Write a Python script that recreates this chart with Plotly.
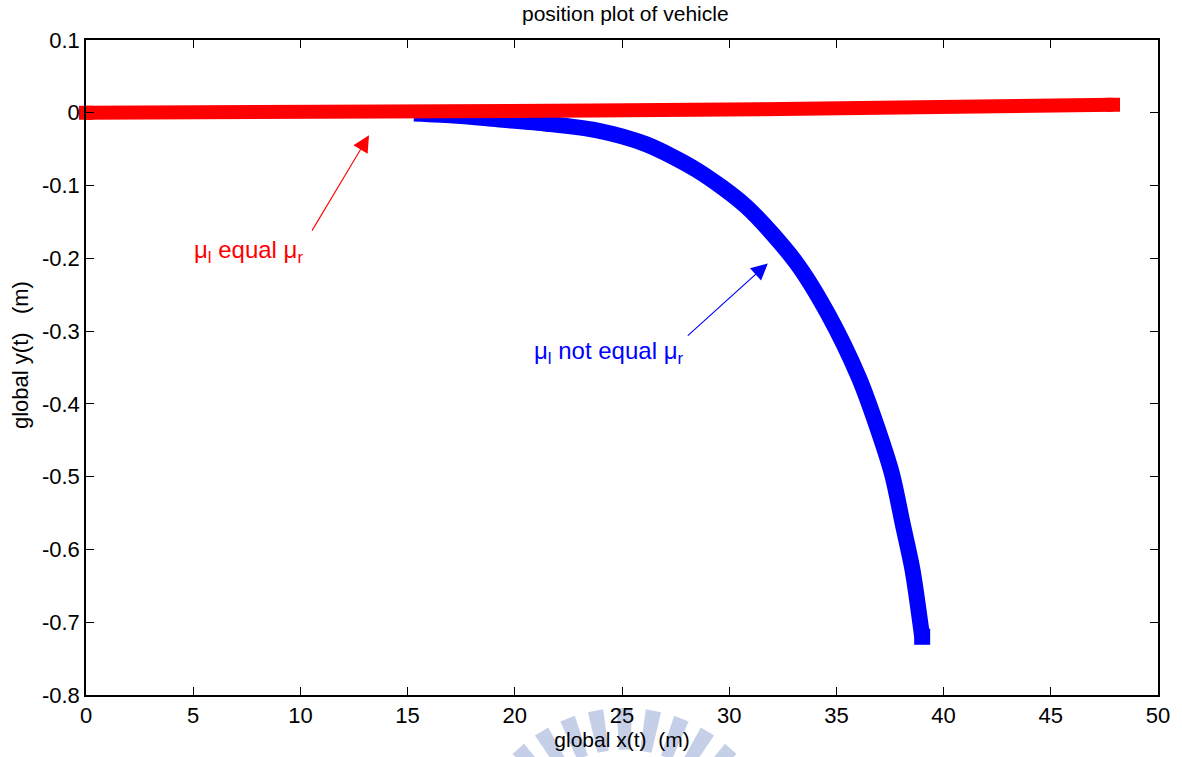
import math
import plotly.graph_objects as go

# Vehicle trajectories (global x, global y) in metres
equal_x = [0, 5, 10, 15, 17.6, 23.7, 31.5, 38.0, 44.0, 47.9]
equal_y = [0, 0, 0, 0, 0.001, 0.003, 0.005, 0.007, 0.009, 0.011]

unequal_x = [15.3, 17.3, 19.2, 21.5, 23.8, 26.1, 28.5, 30.8, 33.1,
             34.6, 36.05, 36.9, 37.6, 38.1, 38.55, 39.0]
unequal_y = [-0.001, -0.004, -0.009, -0.015, -0.024, -0.043, -0.079, -0.129,
             -0.205, -0.276, -0.364, -0.432, -0.497, -0.566, -0.628, -0.720]

x_ticks = [0, 5, 10, 15, 20, 25, 30, 35, 40, 45, 50]
x_tick_text = ["0", "5", "10", "15", "20", "25", "30", "35", "40", "45", "50"]
y_ticks = [0.1, 0, -0.1, -0.2, -0.3, -0.4, -0.5, -0.6, -0.7, -0.8]
y_tick_text = ["0.1", "0", "-0.1", "-0.2", "-0.3", "-0.4", "-0.5", "-0.6", "-0.7", "-0.8"]

FONT = "Liberation Sans, Arial, sans-serif"
BLUE, RED = "#0000ff", "#ff0000"

fig = go.Figure()

# mu_l != mu_r : smooth thick path plus a square cap at its end
fig.add_trace(go.Scatter(
    x=unequal_x, y=unequal_y, mode="lines",
    line=dict(color=BLUE, width=16, shape="spline", smoothing=0.8),
    showlegend=False, hoverinfo="skip",
))
fig.add_trace(go.Scatter(
    x=unequal_x[-1:], y=unequal_y[-1:], mode="markers",
    marker=dict(symbol="square", size=16, color=BLUE, opacity=1, line=dict(width=0)),
    cliponaxis=False, showlegend=False, hoverinfo="skip",
))

# mu_l == mu_r : nearly straight path with square caps at both ends
fig.add_trace(go.Scatter(
    x=equal_x, y=equal_y, mode="lines",
    line=dict(color=RED, width=14),
    showlegend=False, hoverinfo="skip",
))
fig.add_trace(go.Scatter(
    x=[equal_x[0], equal_x[-1]], y=[equal_y[0], equal_y[-1]], mode="markers",
    marker=dict(symbol="square", size=14, color=RED, opacity=1, line=dict(width=0)),
    cliponaxis=False, showlegend=False, hoverinfo="skip",
))

# Arrow callouts
fig.add_annotation(x=13.2, y=-0.031, ax=10.5, ay=-0.164, xref="x", yref="y",
                   axref="x", ayref="y", text="", showarrow=True,
                   arrowhead=2, arrowsize=3, arrowwidth=1.1, arrowcolor=RED)
fig.add_annotation(x=31.8, y=-0.207, ax=28.0, ay=-0.308, xref="x", yref="y",
                   axref="x", ayref="y", text="", showarrow=True,
                   arrowhead=2, arrowsize=3, arrowwidth=1.1, arrowcolor=BLUE)

fig.add_annotation(x=4.96, y=-0.190, xref="x", yref="y", xanchor="left", yanchor="middle",
                   text="μ<sub>l</sub> equal μ<sub>r</sub>", showarrow=False,
                   font=dict(family=FONT, size=24, color=RED))
fig.add_annotation(x=20.8, y=-0.329, xref="x", yref="y", xanchor="left", yanchor="middle",
                   text="μ<sub>l</sub> not equal μ<sub>r</sub>", showarrow=False,
                   font=dict(family=FONT, size=24, color=BLUE))

# Faint emblem behind the x-axis title: radial stripes on an arc
PL, PR, PT, PB = 86, 1165, 40, 700


def to_paper(px, py):
    return (px - PL) / (PR - PL), (PB - py) / (PB - PT)


cx, cy = 628, 873
for k in range(-4, 5):
    ang = 10.5 * k
    pts = []
    for r, a in ((118, ang - 2.8), (160, ang - 2.8), (160, ang + 2.8), (118, ang + 2.8)):
        t = math.radians(a)
        pts.append(to_paper(cx + r * math.sin(t), cy - r * math.cos(t)))
    path = "M " + " L ".join(f"{x:.5f},{y:.5f}" for x, y in pts) + " Z"
    fig.add_shape(type="path", path=path, xref="paper", yref="paper",
                  fillcolor="#c6cfe8", line=dict(width=0), layer="below")

# Vertical axis label, placed slightly above the axis midpoint
fig.add_annotation(x=to_paper(20, 0)[0], y=to_paper(0, 357)[1], xref="paper", yref="paper",
                   text="global y(t)\u00a0\u00a0\u00a0(m)", textangle=-90, showarrow=False,
                   xanchor="center", yanchor="middle",
                   font=dict(family=FONT, size=22, color="#000000"))

axis_common = dict(
    showgrid=False, zeroline=False, showline=True, linecolor="#000000", linewidth=1.5,
    mirror="ticks", ticks="inside", ticklen=8, tickwidth=1, tickcolor="#000000",
    tickfont=dict(family=FONT, size=22, color="#000000"),
)

fig.update_xaxes(range=[0, 50], tickvals=x_ticks, ticktext=x_tick_text,
                 title=dict(text="global x(t)\u00a0\u00a0(m)", standoff=2,
                            font=dict(family=FONT, size=21, color="#000000")),
                 **axis_common)
fig.update_yaxes(range=[-0.8, 0.1], tickvals=y_ticks, ticktext=y_tick_text,
                 **axis_common)

fig.update_layout(
    width=1182, height=757,
    margin=dict(l=86, r=17, t=40, b=57),
    paper_bgcolor="#ffffff", plot_bgcolor="#ffffff",
    title=dict(text="position plot of vehicle", x=0.529, xanchor="center",
               y=0.982, yanchor="middle",
               font=dict(family=FONT, size=21, color="#000000")),
)

fig.write_html("out.html")
